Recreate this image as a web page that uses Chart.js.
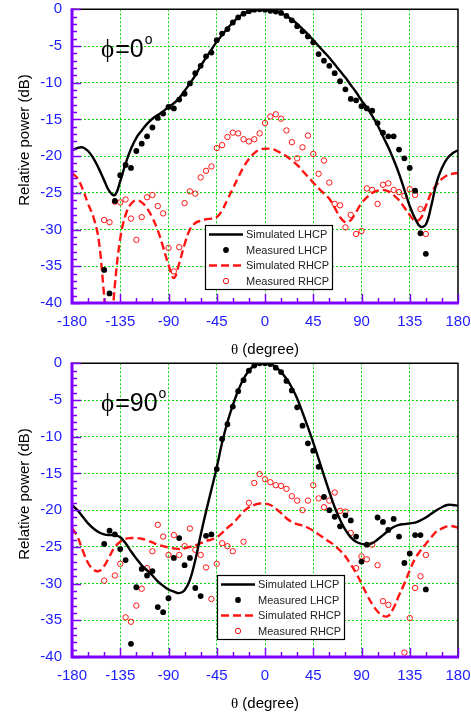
<!DOCTYPE html>
<html>
<head>
<meta charset="utf-8">
<title>Radiation patterns</title>
<script src="https://cdn.jsdelivr.net/npm/chart.js@4.4.1/dist/chart.umd.min.js"></script>
<style>
  html, body { margin: 0; padding: 0; background: #fff; }
  body { width: 471px; height: 717px; position: relative; overflow: hidden; }
  canvas { position: absolute; left: 0; }
  #pattern-phi0 { top: 0; }
  #pattern-phi90 { top: 354px; }
</style>
</head>
<body>
<canvas id="pattern-phi0" width="471" height="363"></canvas>
<canvas id="pattern-phi90" width="471" height="363"></canvas>
<script>
// Angle grids: simulation covers the full sweep, measurement the turntable range
const thetaSim = [-180, -175, -170, -165, -160, -155, -150, -145, -140, -135, -130, -125, -120, -115, -110, -105, -100, -95, -90, -85, -80, -75, -70, -65, -60, -55, -50, -45, -40, -35, -30, -25, -20, -15, -10, -5, 0, 5, 10, 15, 20, 25, 30, 35, 40, 45, 50, 55, 60, 65, 70, 75, 80, 85, 90, 95, 100, 105, 110, 115, 120, 125, 130, 135, 140, 145, 150, 155, 160, 165, 170, 175, 180];
const thetaMeas = [-150, -145, -140, -135, -130, -125, -120, -115, -110, -105, -100, -95, -90, -85, -80, -75, -70, -65, -60, -55, -50, -45, -40, -35, -30, -25, -20, -15, -10, -5, 0, 5, 10, 15, 20, 25, 30, 35, 40, 45, 50, 55, 60, 65, 70, 75, 80, 85, 90, 95, 100, 105, 110, 115, 120, 125, 130, 135, 140, 145, 150];

const thetaTicks = [-180, -135, -90, -45, 0, 45, 90, 135, 180];
const powerTicks = [0, -5, -10, -15, -20, -25, -30, -35, -40];
const seriesLabels = ['Simulated LHCP', 'Measured LHCP', 'Simulated RHCP', 'Measured RHCP'];

// phi = 0 cut (dB)
const phi0SimLhcp = [-19.2, -18.9, -18.8, -19.3, -20.3, -21.7, -23.3, -24.8, -25.3, -23.4, -21.0, -19.0, -17.5, -16.5, -15.6, -14.9, -14.4, -13.9, -13.3, -12.8, -12.1, -11.1, -10.1, -9.0, -7.7, -6.6, -5.5, -4.4, -3.5, -2.6, -1.8, -1.1, -0.6, -0.3, -0.1, 0, 0, -0.05, -0.2, -0.5, -0.9, -1.4, -2.0, -2.7, -3.4, -4.2, -5.0, -5.8, -6.6, -7.5, -8.4, -9.3, -10.3, -11.3, -12.4, -13.4, -14.5, -15.8, -17.3, -18.8, -20.5, -22.4, -24.6, -26.8, -28.5, -29.6, -29.3, -26.8, -23.6, -21.6, -20.3, -19.6, -19.2];
const phi0MeasLhcp = [-35.5, -38.7, -26.1, -22.6, -21.2, -21.6, -19.3, -18.3, -17.3, -16.1, -14.8, -14.2, -13.3, -13.5, -12.3, -11.5, -10.1, -8.7, -7.7, -6.4, -5.9, -4.2, -3.3, -2.7, -1.8, -1.1, -0.6, -0.25, -0.05, 0, -0.05, -0.2, -0.3, -0.5, -0.9, -1.5, -2.3, -3.0, -3.7, -4.5, -6.1, -7.0, -7.7, -8.7, -9.8, -10.9, -12.2, -12.4, -13.2, -13.5, -13.8, -15.5, -16.8, -17.3, -17.3, -19.1, -20.3, -21.6, -24.7, -30.5, -33.3];
const phi0SimRhcp = [-22.3, -23.0, -24.5, -26.5, -28.3, -31.5, -39.0, -46.0, -37.5, -31.2, -28.0, -26.5, -26.0, -26.3, -27.1, -28.4, -30.1, -32.4, -34.8, -36.6, -34.6, -32.0, -30.0, -29.1, -28.8, -28.6, -28.5, -28.3, -27.4, -25.9, -24.4, -22.9, -21.5, -20.4, -19.6, -19.1, -19.0, -19.0, -19.2, -19.6, -20.0, -20.6, -21.2, -22.0, -22.8, -23.6, -24.4, -25.1, -25.8, -27.0, -28.3, -29.0, -28.7, -27.6, -26.4, -25.6, -25.0, -24.7, -24.6, -24.8, -25.3, -26.0, -27.0, -28.0, -28.8, -28.5, -26.8, -25.0, -23.9, -23.1, -22.6, -22.4, -22.3];
const phi0MeasRhcp = [-28.7, -29.0, -26.2, -26.3, -25.9, -28.5, -31.4, -28.3, -25.6, -25.3, -26.8, -27.8, -32.5, -35.7, -32.4, -26.4, -24.8, -25.1, -22.9, -22.0, -21.4, -18.9, -18.5, -17.4, -16.8, -16.9, -17.7, -18.0, -17.7, -16.9, -15.5, -14.6, -14.3, -14.9, -16.5, -18.1, -20.3, -18.8, -17.2, -19.7, -22.4, -20.6, -23.6, -26.5, -26.7, -29.7, -28.0, -30.6, -30.2, -24.4, -24.6, -26.5, -23.9, -23.7, -24.6, -24.9, -25.4, -24.5, -25.3, -27.2, -30.6];

// phi = 90 cut (dB), null where no sample was recorded
const phi90SimLhcp = [-19.3, -20.0, -20.9, -21.8, -22.5, -23.0, -23.3, -23.4, -23.4, -23.7, -24.5, -25.6, -26.6, -27.5, -28.2, -28.9, -29.7, -30.3, -30.8, -31.1, -31.3, -30.9, -29.5, -26.8, -23.4, -20.2, -17.2, -14.2, -10.8, -8.0, -5.7, -3.7, -2.1, -1.0, -0.3, 0, 0, -0.1, -0.5, -1.2, -2.1, -3.3, -4.8, -6.7, -8.7, -10.8, -13.0, -15.3, -17.5, -19.6, -21.3, -22.7, -23.7, -24.3, -24.6, -24.7, -24.5, -24.0, -23.4, -22.8, -22.3, -22.0, -21.9, -21.8, -21.7, -21.4, -21.0, -20.5, -20.0, -19.6, -19.3, -19.3, -19.4];
const phi90MeasLhcp = [-24.6, -22.8, -23.3, -25.3, -26.8, -38.2, -30.5, -28.0, -28.9, -28.3, -33.2, -33.9, -32.0, -26.5, -23.8, -27.5, -26.5, -30.6, -31.7, -23.5, -23.3, -14.4, -10.3, -8.3, -5.9, -3.8, -2.3, -1.0, -0.3, 0, 0, -0.1, -0.6, -1.2, -2.4, -3.7, -6.0, -8.5, -10.9, -11.9, -14.1, -18.2, -20.0, -20.9, -22.2, -20.7, -21.4, -23.6, -27.0, -24.7, null, -21.0, -21.6, -22.7, -21.2, -23.6, -27.2, -25.9, -23.4, -23.4, -30.8];
const phi90SimRhcp = [-22.4, -23.6, -25.5, -27.2, -28.1, -28.3, -27.6, -26.3, -25.0, -24.3, -23.9, -23.8, -23.8, -23.9, -24.1, -24.4, -24.7, -24.9, -25.1, -25.2, -25.3, -25.2, -25.0, -24.8, -24.5, -24.2, -24.0, -23.7, -23.1, -22.4, -21.8, -21.0, -20.2, -19.6, -19.3, -19.1, -19.1, -19.3, -19.8, -20.4, -21.1, -21.6, -21.9, -22.1, -22.4, -22.8, -23.3, -23.8, -24.3, -24.8, -25.5, -26.3, -27.4, -28.6, -30.0, -31.5, -32.8, -33.8, -34.4, -34.4, -33.3, -31.6, -30.0, -28.2, -26.6, -25.5, -24.6, -23.7, -22.9, -22.5, -22.2, -22.2, -22.4];
const phi90MeasRhcp = [-29.6, null, -28.9, -27.3, -34.6, -35.2, -33.0, -30.7, -27.9, -25.6, -22.0, -23.6, -26.1, -23.4, -26.1, -24.9, -22.5, -25.4, -26.1, -27.8, -32.1, -27.3, -24.5, -24.9, -25.6, null, -24.3, -19.0, -16.3, -15.1, -15.8, -16.2, -16.6, -16.7, -17.1, -18.1, -18.7, -20.0, -18.7, -16.6, -18.4, -19.6, -18.7, -17.6, -20.1, -20.2, -23.1, -27.9, -26.3, -26.7, -24.7, -27.5, -32.4, -32.9, null, null, -39.4, -34.7, -30.6, -29.0, -26.1];

const SANS = '"Liberation Sans", Arial, sans-serif';
const SERIF = '"Liberation Serif", "Times New Roman", serif';
const AXIS_PURPLE = '#8000ff';
const TICK_BLUE = '#1c1cff';
const GRID_GREEN = '#00e000';
const RHCP_RED = '#ff1414';

Chart.defaults.font.family = SANS;

function toPoints(thetas, values) {
  return thetas.map((t, i) => ({ x: t, y: values[i] }));
}

// Draws a legend marker (line sample or point) in the style of a dataset
function drawLegendMarker(ctx, ds, x0, x1, y) {
  ctx.save();
  if (ds.showLine === false) {
    ctx.beginPath();
    ctx.arc((x0 + x1) / 2, y, ds.pointRadius, 0, Math.PI * 2);
    if (ds.pointBackgroundColor && ds.pointBackgroundColor !== 'rgba(0,0,0,0)') {
      ctx.fillStyle = ds.pointBackgroundColor;
      ctx.fill();
    }
    if (ds.pointBorderWidth) {
      ctx.lineWidth = ds.pointBorderWidth;
      ctx.strokeStyle = ds.pointBorderColor;
      ctx.stroke();
    }
  } else {
    ctx.setLineDash(ds.borderDash || []);
    ctx.lineWidth = ds.borderWidth;
    ctx.strokeStyle = ds.borderColor;
    ctx.beginPath();
    ctx.moveTo(x0, y);
    ctx.lineTo(x1, y);
    ctx.stroke();
  }
  ctx.restore();
}

// Frame, inward ticks, axis titles, cut label and legend box
const patternFrame = {
  id: 'patternFrame',
  afterDraw(chart, args, opts) {
    const { ctx, chartArea } = chart;
    const { left, right, top, bottom } = chartArea;
    const xs = chart.scales.x;
    const ys = chart.scales.y;
    ctx.save();

    // top and right border
    ctx.strokeStyle = '#000';
    ctx.lineWidth = 1.5;
    ctx.beginPath();
    ctx.moveTo(left, top);
    ctx.lineTo(right, top);
    ctx.lineTo(right, bottom);
    ctx.stroke();

    // left and bottom axes with inward ticks
    ctx.strokeStyle = AXIS_PURPLE;
    ctx.lineWidth = 1.5;
    ctx.beginPath();
    for (let v = ys.min; v <= ys.max; v += 1) {
      const py = Math.round(ys.getPixelForValue(v)) + 0.5;
      const len = v % 5 === 0 ? 9 : 5;
      ctx.moveTo(left, py);
      ctx.lineTo(left + len, py);
    }
    for (let v = xs.min; v <= xs.max; v += 15) {
      const px = Math.round(xs.getPixelForValue(v)) + 0.5;
      const len = v % 45 === 0 ? 9 : 5;
      ctx.moveTo(px, bottom);
      ctx.lineTo(px, bottom - len);
    }
    ctx.stroke();
    ctx.lineWidth = 3;
    ctx.beginPath();
    ctx.moveTo(left, top - 1);
    ctx.lineTo(left, bottom);
    ctx.lineTo(right + 1, bottom);
    ctx.stroke();

    // axis titles
    ctx.fillStyle = '#000';
    ctx.textBaseline = 'middle';
    ctx.textAlign = 'center';
    ctx.font = '15px ' + SANS;
    ctx.save();
    ctx.translate(25, 140);
    ctx.rotate(-Math.PI / 2);
    ctx.fillText('Relative power (dB)', 0, 0);
    ctx.restore();

    const thetaGlyph = 'θ';
    const rest = ' (degree)';
    ctx.font = '15px ' + SERIF;
    const wTheta = ctx.measureText(thetaGlyph).width;
    ctx.font = '15px ' + SANS;
    const wRest = ctx.measureText(rest).width;
    const tx = (left + right) / 2 - (wTheta + wRest) / 2;
    ctx.textAlign = 'left';
    ctx.font = '15px ' + SERIF;
    ctx.fillText(thetaGlyph, tx, 350);
    ctx.font = '15px ' + SANS;
    ctx.fillText(rest, tx + wTheta, 350);

    // cut label, e.g. phi=0 deg
    ctx.textBaseline = 'alphabetic';
    ctx.font = '25px ' + SERIF;
    ctx.fillText('ϕ', 101, 57);
    let cx = 101 + ctx.measureText('ϕ').width + 1;
    ctx.font = '25px ' + SANS;
    const main = '=' + opts.phi;
    ctx.fillText(main, cx, 57);
    cx += ctx.measureText(main).width + 1;
    ctx.font = '14px ' + SANS;
    ctx.fillText('o', cx, 44);

    // legend box
    const lb = opts.legendBox;
    ctx.fillStyle = '#fff';
    ctx.fillRect(lb.x, lb.y, lb.w, lb.h);
    ctx.strokeStyle = '#000';
    ctx.lineWidth = 1.2;
    ctx.strokeRect(lb.x + 0.5, lb.y + 0.5, lb.w, lb.h);
    chart.data.datasets.forEach((ds, i) => {
      const rowY = lb.y + 9.5 + i * 15.5;
      drawLegendMarker(ctx, ds, lb.x + 4, lb.x + 38, rowY);
      ctx.fillStyle = '#222';
      ctx.font = '11px ' + SANS;
      ctx.textBaseline = 'middle';
      ctx.textAlign = 'left';
      ctx.fillText(ds.label, lb.x + 41, rowY + 0.5);
    });

    ctx.restore();
  }
};

function buildPatternChart(canvasId, phi, simL, measL, simR, measR, legendBox) {
  const edgeColor = (edges) => (ctx) =>
    (ctx.tick && edges.includes(ctx.tick.value)) ? 'rgba(0,0,0,0)' : GRID_GREEN;

  return new Chart(document.getElementById(canvasId), {
    type: 'line',
    data: {
      datasets: [
        { label: seriesLabels[0], data: toPoints(thetaSim, simL), borderColor: '#000', borderWidth: 2.4,
          pointRadius: 0, tension: 0.4, order: 1 },
        { label: seriesLabels[1], data: toPoints(thetaMeas, measL), showLine: false, borderColor: '#000',
          pointRadius: 2.9, pointBackgroundColor: '#000', pointBorderColor: '#000', pointBorderWidth: 0, order: 0 },
        { label: seriesLabels[2], data: toPoints(thetaSim, simR), borderColor: RHCP_RED, borderWidth: 2.4,
          borderDash: [8, 4], pointRadius: 0, tension: 0.4, order: 3 },
        { label: seriesLabels[3], data: toPoints(thetaMeas, measR), showLine: false, borderColor: RHCP_RED,
          pointRadius: 2.7, pointBackgroundColor: 'rgba(0,0,0,0)', pointBorderColor: RHCP_RED, pointBorderWidth: 1, order: 2 }
      ]
    },
    options: {
      responsive: false,
      animation: false,
      devicePixelRatio: 1,
      events: [],
      layout: { padding: { left: 0, right: 13, top: 9.3, bottom: 0 } },
      plugins: {
        legend: { display: false },
        tooltip: { enabled: false },
        patternFrame: { phi: phi, legendBox: legendBox }
      },
      scales: {
        x: {
          type: 'linear',
          min: -180,
          max: 180,
          afterBuildTicks: (s) => { s.ticks = thetaTicks.map((v) => ({ value: v })); },
          afterFit: (s) => { s.height = 60; s.paddingLeft = 0; s.paddingRight = 0; },
          ticks: { color: TICK_BLUE, padding: 10, font: { size: 15 }, maxRotation: 0, autoSkip: false,
                   callback: (v) => String(v) },
          grid: { color: edgeColor([-180, 180]), lineWidth: 1, drawTicks: false },
          border: { display: false, dash: [2, 2] }
        },
        y: {
          min: -40,
          max: 0,
          afterBuildTicks: (s) => { s.ticks = powerTicks.map((v) => ({ value: v })); },
          afterFit: (s) => { s.width = 72; s.paddingTop = 0; s.paddingBottom = 0; },
          ticks: { color: TICK_BLUE, padding: 10, font: { size: 15 }, autoSkip: false,
                   callback: (v) => String(v) },
          grid: { color: edgeColor([-40, 0]), lineWidth: 1, drawTicks: false },
          border: { display: false, dash: [2, 2] }
        }
      }
    },
    plugins: [patternFrame]
  });
}

buildPatternChart('pattern-phi0', '0', phi0SimLhcp, phi0MeasLhcp, phi0SimRhcp, phi0MeasRhcp,
  { x: 205, y: 225, w: 127, h: 64 });
buildPatternChart('pattern-phi90', '90', phi90SimLhcp, phi90MeasLhcp, phi90SimRhcp, phi90MeasRhcp,
  { x: 217, y: 221, w: 127, h: 64 });
</script>
</body>
</html>
